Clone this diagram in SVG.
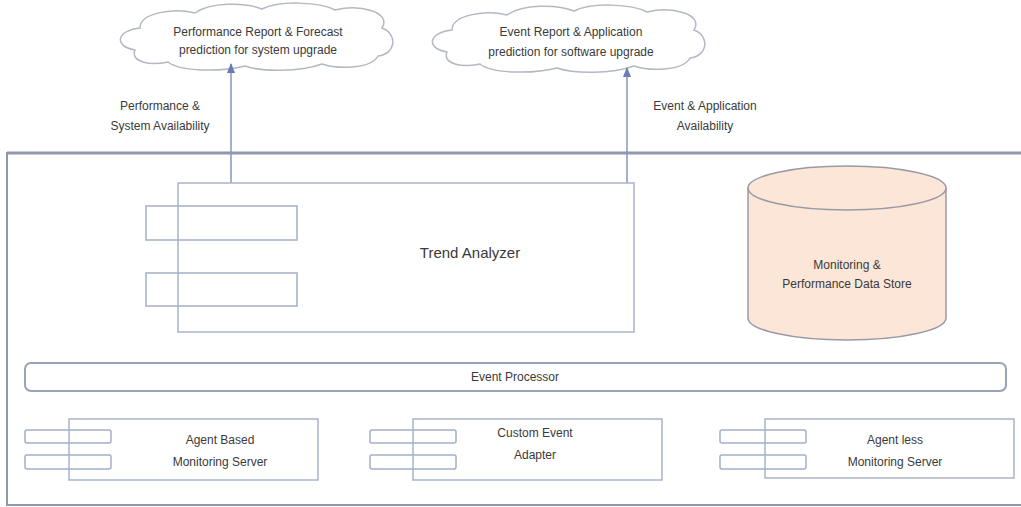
<svg xmlns="http://www.w3.org/2000/svg" width="1021" height="507" viewBox="0 0 1021 507">
<style>
text{font-family:"Liberation Sans",Arial,sans-serif;fill:#3a3a3a;text-anchor:middle}
.t{font-size:12px}
.b{fill:#fff;stroke:#a9b3cc;stroke-width:1.5}
.s{fill:#fff;stroke:#a4aec8;stroke-width:1.5}
.cl{fill:#fff;stroke:#b4b8c2;stroke-width:1.5}
.c{fill:none;stroke:#8796bd;stroke-width:1.5}
</style>
<defs>
<marker id="ah" viewBox="0 0 10 10" refX="9" refY="5" markerWidth="7" markerHeight="7" orient="auto">
<path d="M0,1 L10,5 L0,9 z" fill="#6a7cb5"/>
</marker>
</defs>
<rect width="1021" height="507" fill="#fff"/>
<g id="system">
<rect x="7" y="153" width="1030" height="352" fill="none" stroke="#9098ae" stroke-width="2"/>
<line x1="7" y1="153" x2="1021" y2="153" stroke="#9098ae" stroke-width="3"/>
</g>
<g id="cloud1">
<path class="cl" d="M135,50 C112,46 118,30 140,28 C140,12 175,8 195,13 C210,2 245,2 262,9 C280,0 320,2 335,10 C360,4 392,12 382,28 C398,34 396,54 378,56 C372,68 340,70 322,64 C300,72 262,72 245,66 C222,72 180,72 168,62 C150,66 130,62 135,50 Z"/>
<text class="t" x="258" y="36">Performance Report &amp; Forecast</text>
<text class="t" x="258" y="54" font-size="11">prediction for system upgrade</text>
</g>
<g id="cloud2">
<path class="cl" d="M447,52 C424,48 430,32 452,30 C452,14 487,10 507,15 C522,4 557,4 574,11 C592,2 632,4 647,12 C672,6 704,14 694,30 C710,36 708,56 690,58 C684,70 652,72 634,66 C612,74 574,74 557,68 C534,74 492,74 480,64 C462,68 442,64 447,52 Z"/>
<text class="t" x="571" y="36">Event Report &amp; Application</text>
<text class="t" x="571" y="56" font-size="11">prediction for software upgrade</text>
</g>
<g id="connectors">
<line class="c" x1="231" y1="183" x2="231" y2="64" marker-end="url(#ah)"/>
<line class="c" x1="627" y1="183" x2="627" y2="68" marker-end="url(#ah)"/>
<text class="t" x="160" y="110">Performance &amp;</text>
<text class="t" x="160" y="130">System Availability</text>
<text class="t" x="705" y="110">Event  &amp; Application</text>
<text class="t" x="705" y="130">Availability</text>
</g>
<g id="trend-analyzer">
<rect class="b" x="178" y="183" width="456" height="149"/>
<rect class="s" x="146" y="206" width="151" height="34" fill="none" style="fill:none"/>
<rect class="s" x="146" y="273" width="151" height="33" style="fill:none"/>
<text x="470" y="258" font-size="15">Trend Analyzer</text>
</g>
<g id="data-store">
<path d="M748,188 L748,318 A99,22 0 0 0 946,318 L946,188 A99,22 0 0 0 748,188 Z" fill="#fbe6d8" stroke="#9a9aa6" stroke-width="1.5"/>
<path d="M748,188 A99,22 0 0 0 946,188" fill="none" stroke="#9a9aa6" stroke-width="1.5"/>
<text class="t" x="847" y="269" font-size="11">Monitoring  &amp;</text>
<text class="t" x="847" y="288" font-size="11">Performance Data Store</text>
</g>
<g id="event-processor">
<rect x="25" y="363" width="981" height="28" rx="6" fill="#fff" stroke="#9aa2b8" stroke-width="2"/>
<text class="t" x="515" y="381">Event Processor</text>
</g>
<g id="agent-based">
<rect class="b" x="69" y="419" width="249" height="61"/>
<rect class="s" x="25" y="430" width="86" height="13" rx="2" style="fill:none"/>
<rect class="s" x="25" y="455" width="86" height="14" rx="2" style="fill:none"/>
<text class="t" x="220" y="444" font-size="11">Agent Based</text>
<text class="t" x="220" y="466" font-size="11">Monitoring Server</text>
</g>
<g id="custom-adapter">
<rect class="b" x="413" y="419" width="249" height="61"/>
<rect class="s" x="370" y="430" width="86" height="13" rx="2" style="fill:none"/>
<rect class="s" x="370" y="455" width="86" height="14" rx="2" style="fill:none"/>
<text class="t" x="535" y="437" font-size="11">Custom Event</text>
<text class="t" x="535" y="459" font-size="11">Adapter</text>
</g>
<g id="agentless">
<rect class="b" x="765" y="419" width="249" height="59"/>
<rect class="s" x="720" y="430" width="86" height="13" rx="2" style="fill:none"/>
<rect class="s" x="720" y="455" width="86" height="14" rx="2" style="fill:none"/>
<text class="t" x="895" y="444" font-size="11">Agent less</text>
<text class="t" x="895" y="466" font-size="11">Monitoring Server</text>
</g>
</svg>
